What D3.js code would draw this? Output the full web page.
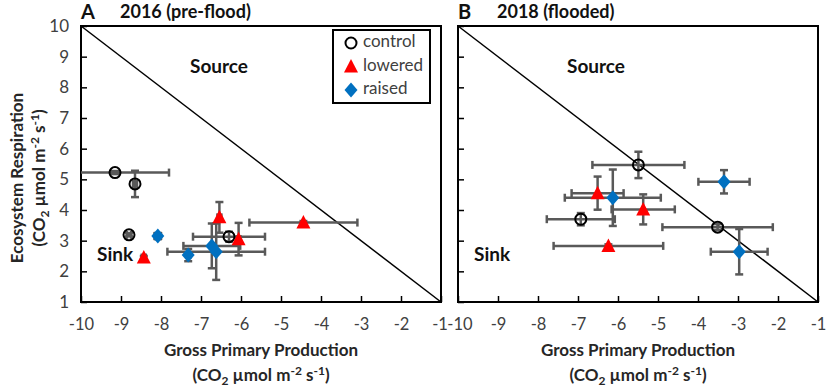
<!DOCTYPE html>
<html>
<head>
<meta charset="utf-8">
<script src="https://cdn.jsdelivr.net/npm/d3@7"></script>
<style>
  body { margin: 0; background: #fff; }
  text { font-family: Lato, "Open Sans", sans-serif; }
</style>
</head>
<body>
<div id="chart"></div>
<script>
// axis ticks
const xTicks = [-10, -9, -8, -7, -6, -5, -4, -3, -2, -1];
const yTicks = [1, 2, 3, 4, 5, 6, 7, 8, 9, 10];
const panelLetters = ["A", "B"];
const panelTitles = ["2016 (pre-flood)", "2018 (flooded)"];
const seriesNames = ["control", "lowered", "raised"];

// [GPP, ER, GPP err, ER err]
const control2016 = [[-9.15, 5.22, 1.35, 0.05], [-8.65, 4.85, 0.05, 0.43], [-8.8, 3.19, 0.05, 0.05], [-6.3, 3.13, 0.9, 0.16]];
const lowered2016 = [[-8.43, 2.45, 0.05, 0.05], [-6.54, 3.76, 0.05, 0.5], [-6.06, 3.05, 0.05, 0.53], [-4.44, 3.59, 1.35, 0.05]];
const raised2016 = [[-8.08, 3.15, 0.08, 0.1], [-7.32, 2.53, 0.05, 0.2], [-6.73, 2.83, 0.71, 0.73], [-6.62, 2.64, 1.22, 0.92]];

const control2018 = [[-5.49, 5.47, 1.15, 0.43], [-6.93, 3.7, 0.85, 0.2], [-3.51, 3.44, 1.38, 0.1]];
const lowered2018 = [[-6.51, 4.55, 0.65, 0.54], [-5.37, 4.02, 0.79, 0.49], [-6.24, 2.83, 1.37, 0.05]];
const raised2018 = [[-6.13, 4.4, 1.2, 0.92], [-3.35, 4.92, 0.64, 0.38], [-2.97, 2.64, 0.71, 0.74]];

const width = 830, height = 388;
const svg = d3.select("#chart").append("svg")
    .attr("width", width)
    .attr("height", height);

const plotTop = 26, plotBottom = 302;
const panelLeft = [81, 458];
const panelW = 360;
const errColor = "#595959";
const tickColor = "#404040";
const titleColor = "#262626";

const y = d3.scaleLinear().domain([1, 10]).range([plotBottom, plotTop]);

function marker(g, kind) {
    if (kind === "control") {
        g.append("circle").attr("r", 5.5).attr("fill", "none")
            .attr("stroke", "#000").attr("stroke-width", 2);
    } else if (kind === "lowered") {
        g.append("path").attr("d", "M0,-7.5L7,6L-7,6Z").attr("fill", "#ff0000");
    } else {
        g.append("path").attr("d", "M0,-7.5L6.5,0L0,7.5L-6.5,0Z").attr("fill", "#0070c0");
    }
}

function drawPanel(i, series) {
    let left = panelLeft[i];
    let x = d3.scaleLinear().domain([-10, -1]).range([left, left + panelW]);
    let g = svg.append("g");

    g.append("clipPath").attr("id", "clip" + i)
        .append("rect").attr("x", left).attr("y", plotTop)
        .attr("width", panelW).attr("height", plotBottom - plotTop);

    // axes with inward ticks
    let xAxis = g.append("g")
        .attr("transform", `translate(0,${plotBottom})`)
        .call(d3.axisBottom(x).tickValues(xTicks).tickSize(-6).tickPadding(16).tickFormat(d => String(d)));
    xAxis.select(".domain").remove();
    xAxis.selectAll("line").attr("stroke", "#000").attr("stroke-width", 1.5);
    xAxis.selectAll("text").attr("font-size", 16.5).attr("fill", tickColor)
        // the two panels' end labels sit almost on top of each other
        .attr("dx", d => (i === 0 && d === -1) ? -1.5 : (i === 1 && d === -10) ? 1.5 : 0);

    let yAxis = g.append("g")
        .attr("transform", `translate(${left},0)`)
        .call(d3.axisLeft(y).tickValues(yTicks).tickSize(-6).tickPadding(12));
    yAxis.select(".domain").remove();
    yAxis.selectAll("line").attr("stroke", "#000").attr("stroke-width", 1.5);
    if (i === 0) {
        yAxis.selectAll("text").attr("font-size", 17).attr("fill", tickColor);
    } else {
        yAxis.selectAll("text").remove();
    }

    // 1:1 line
    g.append("line")
        .attr("x1", x(-10)).attr("y1", y(10))
        .attr("x2", x(-1)).attr("y2", y(1))
        .attr("stroke", "#000").attr("stroke-width", 1.5);

    g.append("rect")
        .attr("x", left).attr("y", plotTop)
        .attr("width", panelW).attr("height", plotBottom - plotTop)
        .attr("fill", "none").attr("stroke", "#000").attr("stroke-width", 2);

    g.append("text").attr("x", x(-6.55)).attr("y", y(8.63))
        .attr("text-anchor", "middle").attr("dominant-baseline", "middle")
        .attr("font-size", 19).attr("font-weight", "bold").attr("fill", "#111")
        .text("Source");
    g.append("text").attr("x", x(-9.6)).attr("y", y(2.5))
        .attr("dominant-baseline", "middle")
        .attr("font-size", 19).attr("font-weight", "bold").attr("fill", "#111")
        .text("Sink");

    // error bars
    let eb = g.append("g").attr("clip-path", `url(#clip${i})`)
        .attr("stroke", errColor).attr("stroke-width", 2.5).attr("fill", "none");
    let cap = 4;
    series.forEach(s => {
        s.data.forEach(d => {
            let [gx, gy, ex, ey] = d;
            eb.append("line").attr("x1", x(gx - ex)).attr("x2", x(gx + ex)).attr("y1", y(gy)).attr("y2", y(gy));
            eb.append("line").attr("x1", x(gx - ex)).attr("x2", x(gx - ex)).attr("y1", y(gy) - cap).attr("y2", y(gy) + cap);
            eb.append("line").attr("x1", x(gx + ex)).attr("x2", x(gx + ex)).attr("y1", y(gy) - cap).attr("y2", y(gy) + cap);
            eb.append("line").attr("x1", x(gx)).attr("x2", x(gx)).attr("y1", y(gy - ey)).attr("y2", y(gy + ey));
            eb.append("line").attr("x1", x(gx) - cap).attr("x2", x(gx) + cap).attr("y1", y(gy - ey)).attr("y2", y(gy - ey));
            eb.append("line").attr("x1", x(gx) - cap).attr("x2", x(gx) + cap).attr("y1", y(gy + ey)).attr("y2", y(gy + ey));
        });
    });

    series.forEach(s => {
        g.append("g").selectAll("g")
            .data(s.data)
            .join("g")
            .attr("transform", d => `translate(${x(d[0])},${y(d[1])})`)
            .each(function() { marker(d3.select(this), s.name); });
    });

    // panel heading
    svg.append("text").attr("x", left).attr("y", 19)
        .attr("font-size", 20).attr("font-weight", "bold").attr("fill", "#111")
        .text(panelLetters[i]);
    svg.append("text").attr("x", left + 39).attr("y", 18)
        .attr("font-size", 18).attr("font-weight", "bold").attr("fill", "#111")
        .text(panelTitles[i]);

    // x axis title
    let cx = left + panelW / 2;
    svg.append("text").attr("x", cx).attr("y", 356)
        .attr("text-anchor", "middle").attr("font-size", 17).attr("font-weight", "bold").attr("fill", titleColor)
        .text("Gross Primary Production");
    let t = svg.append("text").attr("x", cx).attr("y", 381)
        .attr("text-anchor", "middle").attr("font-size", 17).attr("font-weight", "bold").attr("fill", titleColor);
    unitText(t);
}

function unitText(t) {
    t.append("tspan").text("(CO");
    t.append("tspan").attr("font-size", 12).attr("dy", 4).text("2");
    t.append("tspan").attr("dy", -4).text(" \u00b5mol m");
    t.append("tspan").attr("font-size", 12).attr("dy", -6).text("-2");
    t.append("tspan").attr("dy", 6).text(" s");
    t.append("tspan").attr("font-size", 12).attr("dy", -6).text("-1");
    t.append("tspan").attr("dy", 6).text(")");
}

drawPanel(0, [
    {name: "control", data: control2016},
    {name: "lowered", data: lowered2016},
    {name: "raised", data: raised2016}
]);
drawPanel(1, [
    {name: "control", data: control2018},
    {name: "lowered", data: lowered2018},
    {name: "raised", data: raised2018}
]);

// y axis title
let yt = svg.append("g").attr("transform", "translate(0,178) rotate(-90)");
yt.append("text").attr("x", 0).attr("y", 23)
    .attr("text-anchor", "middle").attr("font-size", 17).attr("font-weight", "bold").attr("fill", titleColor)
    .text("Ecosystem Respiration");
unitText(yt.append("text").attr("x", 0).attr("y", 45)
    .attr("text-anchor", "middle").attr("font-size", 17).attr("font-weight", "bold").attr("fill", titleColor));

// legend
let legend = svg.append("g");
legend.append("rect").attr("x", 333).attr("y", 30).attr("width", 97).attr("height", 73)
    .attr("fill", "#fff").attr("stroke", "#000").attr("stroke-width", 2);
seriesNames.forEach((n, k) => {
    let row = legend.append("g").attr("transform", `translate(351,${43 + k * 23.5})`);
    marker(row, n);
    row.append("text").attr("x", 12).attr("dominant-baseline", "middle")
        .attr("font-size", 17).attr("fill", "#404040").text(n);
});
</script>
</body>
</html>
